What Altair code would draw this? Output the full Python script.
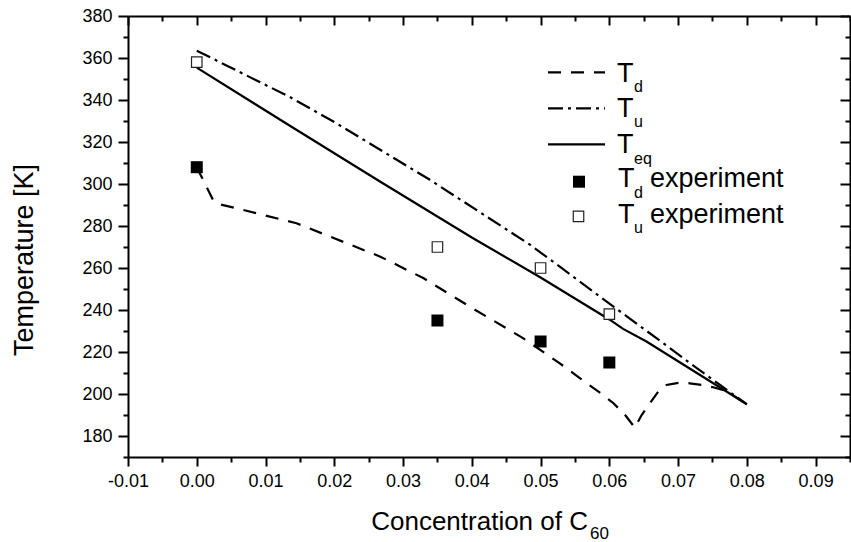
import altair as alt
import pandas as pd

# ---------------- data ----------------
td_conc = [0.0, 0.0024, 0.0034, 0.0068, 0.0145, 0.0267, 0.033, 0.0397, 0.0475, 0.0528,
           0.0557, 0.0591, 0.0606, 0.0623, 0.0637, 0.0647, 0.0659, 0.0671, 0.0683, 0.0703,
           0.0717, 0.0734, 0.0751, 0.077, 0.08]
td_temp = [308.0, 292.2, 290.3, 287.6, 281.3, 265.4, 255.1, 241.6, 226.5, 214.6,
           207.6, 199.5, 195.6, 190.0, 184.0, 190.0, 195.6, 201.1, 204.3, 205.4,
           205.1, 204.3, 203.2, 201.5, 195.1]

tu_conc = [0.0, 0.0136, 0.02, 0.0339, 0.0485, 0.0528, 0.0606, 0.0669, 0.072, 0.0761, 0.08]
tu_temp = [363.5, 341.3, 329.5, 302.0, 271.0, 260.6, 241.6, 226.5, 214.0, 204.3, 195.1]

teq_conc = [0.0, 0.0136, 0.0267, 0.04, 0.05, 0.055, 0.06, 0.062, 0.0654, 0.08]
teq_temp = [355.4, 327.6, 301.1, 274.5, 255.5, 245.5, 235.5, 231.0, 225.0, 195.1]

exp_conc = [0.0, 0.035, 0.05, 0.06]
td_exp_temp = [308, 235, 225, 215]
tu_exp_temp = [358, 270, 260, 238]

x_tick_values = [-0.01, -0.005, 0.0, 0.005, 0.01, 0.015, 0.02, 0.025, 0.03, 0.035, 0.04,
                 0.045, 0.05, 0.055, 0.06, 0.065, 0.07, 0.075, 0.08, 0.085, 0.09, 0.095]
y_tick_values = [170, 180, 190, 200, 210, 220, 230, 240, 250, 260, 270, 280, 290, 300,
                 310, 320, 330, 340, 350, 360, 370, 380]

FONT = "Liberation Sans"

xs = alt.Scale(domain=[-0.01, 0.095], nice=False, zero=False)
ys = alt.Scale(domain=[170, 380], nice=False, zero=False)

major_x = "abs(round(datum.value*1000)) % 10 == 0"
major_y = "datum.value % 20 == 0"
x_label_expr = (f"{major_x} ? (datum.value < 0 ? '-' + format(-datum.value, '.2f') "
                f": format(datum.value, '.2f')) : ''")
y_label_expr = f"{major_y} ? '' + datum.value : ''"

common = dict(domainColor="black", domainWidth=2, tickColor="black", tickWidth=2,
              labelColor="black", labelFont=FONT, labelFontSize=18, grid=False,
              title=None, labelOverlap=False, labelFlush=False)

x_bottom = alt.Axis(orient="bottom", values=x_tick_values, labelExpr=x_label_expr,
                    tickSize={"expr": f"{major_x} ? 9 : 5"}, labelPadding=6, **common)
x_top = alt.Axis(orient="top", values=x_tick_values, labels=False,
                 tickSize={"expr": f"{major_x} ? -9 : -5"}, **common)
y_left = alt.Axis(orient="left", values=y_tick_values, labelExpr=y_label_expr,
                  tickSize={"expr": f"{major_y} ? 10 : 5"}, labelPadding=6, **common)
y_right = alt.Axis(orient="right", values=y_tick_values, labels=False,
                   tickSize={"expr": f"{major_y} ? -10 : -5"}, **common)

td_df = pd.DataFrame({"c": td_conc, "t": td_temp})
tu_df = pd.DataFrame({"c": tu_conc, "t": tu_temp})
teq_df = pd.DataFrame({"c": teq_conc, "t": teq_temp})
tdx_df = pd.DataFrame({"c": exp_conc, "t": td_exp_temp})
tux_df = pd.DataFrame({"c": exp_conc, "t": tu_exp_temp})

td_line = alt.Chart(td_df).mark_line(color="black", strokeWidth=2.2, strokeDash=[13, 10]).encode(
    x=alt.X("c:Q", scale=xs, axis=x_bottom), y=alt.Y("t:Q", scale=ys, axis=y_left))
tu_line = alt.Chart(tu_df).mark_line(color="black", strokeWidth=2.2, strokeDash=[15, 5, 3, 5]).encode(
    x=alt.X("c:Q", scale=xs, axis=None), y=alt.Y("t:Q", scale=ys, axis=None))
teq_line = alt.Chart(teq_df).mark_line(color="black", strokeWidth=2.2).encode(
    x=alt.X("c:Q", scale=xs, axis=x_top), y=alt.Y("t:Q", scale=ys, axis=y_right))
td_pts = alt.Chart(tdx_df).mark_square(size=144, color="black", opacity=1).encode(
    x=alt.X("c:Q", scale=xs, axis=None), y=alt.Y("t:Q", scale=ys, axis=None))
tu_pts = alt.Chart(tux_df).mark_square(size=110, fill="white", stroke="#222", strokeWidth=1.2, opacity=1).encode(
    x=alt.X("c:Q", scale=xs, axis=None), y=alt.Y("t:Q", scale=ys, axis=None))

one = pd.DataFrame({"k": [0]})


def txt(s, x, y, size, align="left", angle=0):
    kw = dict(text=s, fontSize=size, font=FONT, color="black", align=align, baseline="alphabetic")
    if angle:
        kw["angle"] = angle
    return alt.Chart(one).mark_text(**kw).encode(x=alt.value(x), y=alt.value(y))


def seg(y, dash=None):
    kw = dict(color="black", strokeWidth=2.2)
    if dash:
        kw["strokeDash"] = dash
    return alt.Chart(one).mark_rule(**kw).encode(x=alt.value(420), x2=alt.value(477), y=alt.value(y))


legend = [
    seg(56.3, [13, 10]), txt("T", 489, 66, 27), txt("d", 506, 76, 16),
    seg(92.3, [15, 5, 3, 5]), txt("T", 489, 101, 27), txt("u", 506, 111, 16),
    seg(128.3), txt("T", 489, 137, 27), txt("eq", 506, 148, 16),
    alt.Chart(one).mark_square(size=144, color="black", opacity=1).encode(x=alt.value(451), y=alt.value(165.7)),
    txt("T", 490, 171, 27), txt("d", 506, 182, 16), txt("experiment", 522, 171, 27),
    alt.Chart(one).mark_square(size=110, fill="white", stroke="#222", strokeWidth=1.2, opacity=1).encode(
        x=alt.value(450.5), y=alt.value(200.3)),
    txt("T", 490, 207, 27), txt("u", 506, 217, 16), txt("experiment", 522, 207, 27),
]

titles = [
    txt("Temperature [K]", -95, 244, 27, align="center", angle=270),
    txt("Concentration of C", 460, 514, 26, align="right"),
    txt("60", 462, 523, 17, align="left"),
]

chart = alt.layer(td_line, tu_line, teq_line, td_pts, tu_pts, *legend, *titles).resolve_axis(
    x="independent", y="independent"
).properties(
    width=722, height=441,
    autosize=alt.AutoSizeParams(type="none"),
    padding={"left": 128, "top": 16, "right": 1, "bottom": 85},
    background="white",
).configure_view(stroke="transparent")

chart.save("out.html", embed_options={"renderer": "svg", "actions": False})
